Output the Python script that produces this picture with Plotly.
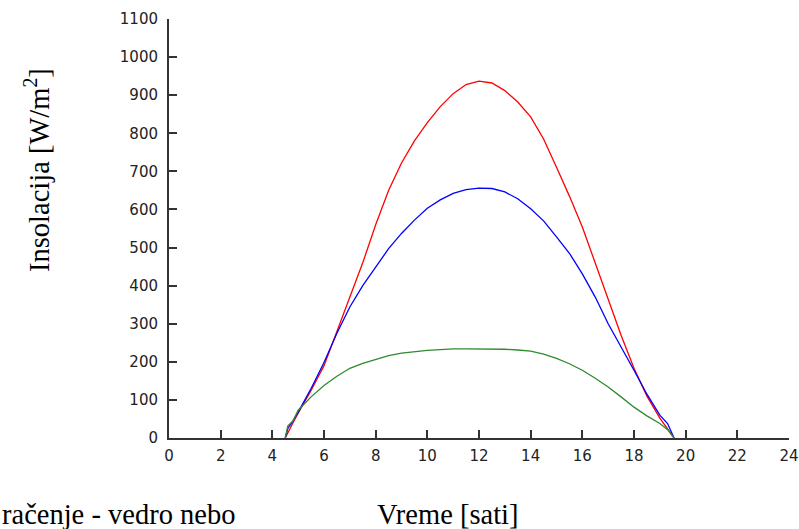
import plotly.graph_objects as go

hours = [4.5, 4.6, 4.8, 5, 5.5, 6, 6.5, 7, 7.5, 8, 8.5, 9, 9.5, 10, 10.5, 11, 11.5, 12,
         12.5, 13, 13.5, 14, 14.5, 15, 15.5, 16, 16.5, 17, 17.5, 18, 18.5, 19, 19.3, 19.55]

red_vals = [0, 12, 40, 65, 125, 190, 280, 375, 460, 560, 650, 722, 780, 828, 870, 904, 928, 937,
            932, 912, 882, 843, 785, 711, 635, 554, 460, 361, 270, 183, 110, 52, 25, 0]

blue_vals = [0, 25, 45, 68, 130, 198, 275, 344, 400, 449, 497, 537, 572, 603, 625, 642, 652, 656,
             655, 646, 628, 602, 570, 528, 485, 431, 370, 300, 240, 178, 115, 60, 38, 0]

green_vals = [0, 32, 45, 73, 108, 138, 162, 183, 196, 207, 216, 223, 227, 230, 232, 234, 234, 234,
              234, 233, 231, 228, 220, 209, 195, 178, 157, 134, 108, 81, 58, 38, 22, 0]

x_ticks = list(range(0, 25, 2))
y_ticks = list(range(0, 1101, 100))

fig = go.Figure()
fig.add_trace(go.Scatter(x=hours, y=red_vals, mode="lines", line=dict(color="#ff0000", width=1.3)))
fig.add_trace(go.Scatter(x=hours, y=blue_vals, mode="lines", line=dict(color="#0000ff", width=1.3)))
fig.add_trace(go.Scatter(x=hours, y=green_vals, mode="lines", line=dict(color="#2e8b2e", width=1.3)))

axis_common = dict(
    showgrid=False, zeroline=False, showline=True, linecolor="#333333", linewidth=2,
    ticks="inside", ticklen=8, tickwidth=2, tickcolor="#333333", automargin=False,
    tickfont=dict(family="DejaVu Sans", size=15, color="#222222"),
)

title_font = dict(family="Liberation Serif", size=28.5, color="black")

fig.update_layout(
    width=799, height=529,
    margin=dict(l=169, r=10, t=19, b=91),
    paper_bgcolor="white", plot_bgcolor="white",
    showlegend=False,
    xaxis=dict(range=[0, 24], tickvals=x_ticks, ticklabelstandoff=3, **axis_common),
    yaxis=dict(range=[0, 1100], tickvals=y_ticks, ticklabelstandoff=6, **axis_common),
    annotations=[
        dict(text="Vreme [sati]", xref="paper", yref="paper", x=(448 - 169) / 620, y=-(514 - 438) / 419,
             xanchor="center", yanchor="middle", showarrow=False, font=title_font),
        dict(text="Insolacija [W/m<sup>2</sup>]", xref="paper", yref="paper",
             x=-(169 - 37) / 620, y=(438 - 170) / 419, textangle=-90,
             xanchor="center", yanchor="middle", showarrow=False, font=title_font),
        dict(text="račenje - vedro nebo", xref="paper", yref="paper",
             x=-(169 - 0) / 620, y=-(514 - 438) / 419,
             xanchor="left", yanchor="middle", showarrow=False, font=title_font),
    ],
)

fig.write_html("out.html", config={"displayModeBar": False},
               post_script="document.body.style.margin='0';")
